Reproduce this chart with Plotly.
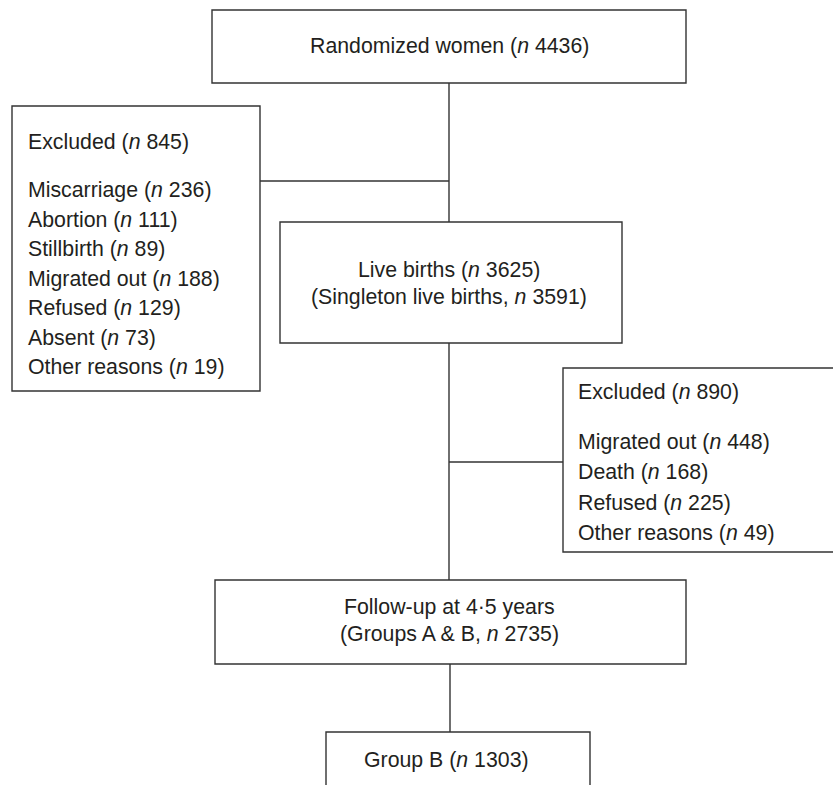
import plotly.graph_objects as go

# ---- data ----
randomized_n = 4436
excluded1_total = 845
excluded1_reasons = ["Miscarriage", "Abortion", "Stillbirth", "Migrated out", "Refused", "Absent", "Other reasons"]
excluded1_counts = [236, 111, 89, 188, 129, 73, 19]
live_births_n = 3625
singleton_n = 3591
excluded2_total = 890
excluded2_reasons = ["Migrated out", "Death", "Refused", "Other reasons"]
excluded2_counts = [448, 168, 225, 49]
followup_label = "Follow-up at 4·5 years"
followup_n = 2735
groupB_n = 1303

W, H = 833, 785
FONT = "Liberation Sans, Arial, Helvetica, sans-serif"
FS = 21.3
LC = "#333333"
LW = 1.4

fig = go.Figure()
shapes = []
annots = []

def box(x0, y0, x1, y1):
    shapes.append(dict(type="rect", x0=x0, y0=y0, x1=x1, y1=y1, xref="x", yref="y",
                       line=dict(color=LC, width=LW), fillcolor="rgba(0,0,0,0)"))

def line(x0, y0, x1, y1):
    shapes.append(dict(type="line", x0=x0, y0=y0, x1=x1, y1=y1, xref="x", yref="y",
                       line=dict(color=LC, width=LW)))

def text(x, y, s, anchor="center"):
    annots.append(dict(x=x, y=y, xref="x", yref="y", text=s, showarrow=False,
                       xanchor=anchor, yanchor="middle",
                       font=dict(family=FONT, size=FS, color="#231f20")))

def nlab(label, n):
    return f"{label} (<i>n</i> {n})"

CX = 449
# Box 1
box(212, 10, 686, 83)
text(CX, 46, nlab("Randomized women", randomized_n))
line(CX, 83, CX, 222)

# Left excluded box
box(12, 106, 260, 391)
line(260, 181, CX, 181)
text(26, 142, nlab("Excluded", excluded1_total), "left")
y0 = 190
for i, (r, c) in enumerate(zip(excluded1_reasons, excluded1_counts)):
    text(26, y0 + i * 29.5, nlab(r, c), "left")

# Box 2
box(280, 222, 622, 343)
text(CX, 270, nlab("Live births", live_births_n))
text(CX, 297, f"(Singleton live births, <i>n</i> {singleton_n})")
line(CX, 343, CX, 580)

# Right excluded box
box(563, 368, 845, 552)
line(CX, 462, 563, 462)
text(575.5, 392, nlab("Excluded", excluded2_total), "left")
y0 = 442
for i, (r, c) in enumerate(zip(excluded2_reasons, excluded2_counts)):
    text(575.5, y0 + i * 30.3, nlab(r, c), "left")

# Box 4
box(215, 580, 686, 664)
text(CX, 607, followup_label)
text(CX, 634, f"(Groups A & B, <i>n</i> {followup_n})")
line(450, 664, 450, 732)

# Box 5
box(326, 732, 590, 800)
text(446, 760, nlab("Group B", groupB_n))

fig.update_layout(
    width=W, height=H, margin=dict(l=0, r=0, t=0, b=0),
    paper_bgcolor="white", plot_bgcolor="white",
    xaxis=dict(range=[0, W], visible=False, fixedrange=True),
    yaxis=dict(range=[H, 0], visible=False, fixedrange=True),
    shapes=shapes, annotations=annots, showlegend=False,
)
fig.write_html("out.html", config={"displayModeBar": False},
               post_script="document.body.style.margin='0';")
